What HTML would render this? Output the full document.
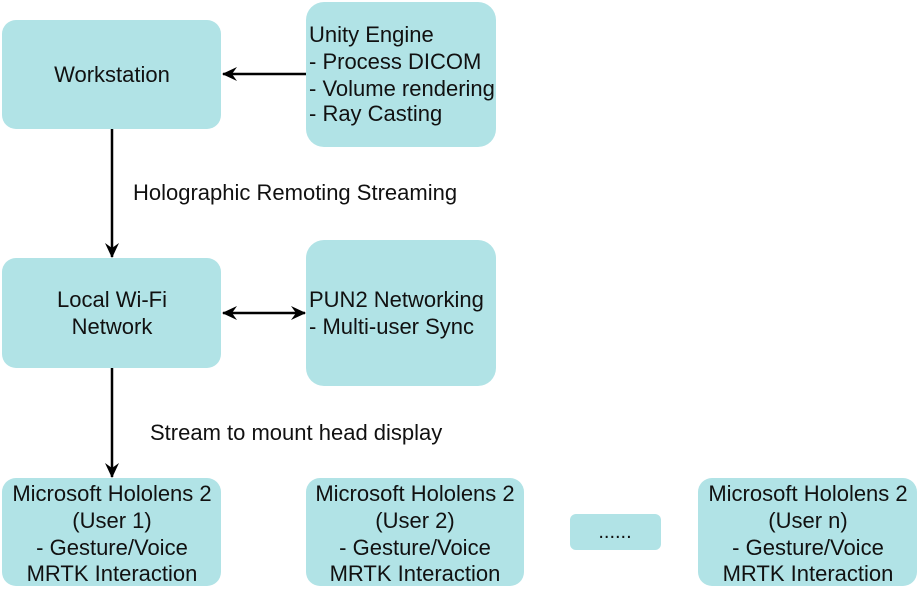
<!DOCTYPE html>
<html><head><style>html,body{margin:0;padding:0;background:#fff}svg{display:block}</style></head>
<body>
<svg width="920" height="590" viewBox="0 0 920 590" xmlns="http://www.w3.org/2000/svg" font-family="Liberation Sans, Arial, sans-serif" font-size="22" fill="#111">
<defs>
<marker id="a" markerWidth="16" markerHeight="16" refX="14" refY="8" orient="auto" markerUnits="userSpaceOnUse">
<path d="M0,1 L15,8 L0,15 L5,8 Z" fill="#000"/></marker>
<marker id="b" markerWidth="16" markerHeight="16" refX="1" refY="8" orient="auto" markerUnits="userSpaceOnUse">
<path d="M15,1 L0,8 L15,15 L10,8 Z" fill="#000"/></marker>
</defs>
<g fill="#b1e3e6">
<rect x="2" y="20" width="219" height="109" rx="14"/>
<rect x="306" y="2" width="190" height="145" rx="18"/>
<rect x="2" y="258" width="219" height="110" rx="14"/>
<rect x="306" y="240" width="190" height="146" rx="18"/>
<rect x="2" y="478" width="219" height="108" rx="14"/>
<rect x="306" y="478" width="218" height="108" rx="14"/>
<rect x="570" y="514" width="91" height="36" rx="6"/>
<rect x="698" y="478" width="219" height="108" rx="14"/>
</g>
<g stroke="#000" stroke-width="2.5" fill="none">
<line x1="306" y1="74" x2="223" y2="74" marker-end="url(#a)"/>
<line x1="112" y1="129" x2="112" y2="257" marker-end="url(#a)"/>
<line x1="223" y1="313" x2="305" y2="313" marker-start="url(#b)" marker-end="url(#a)"/>
<line x1="112" y1="368" x2="112" y2="477" marker-end="url(#a)"/>
</g>
<text x="112" y="82" text-anchor="middle">Workstation</text>
<text x="309" y="42">Unity Engine</text>
<text x="309" y="69">- Process DICOM</text>
<text x="309" y="96">- Volume rendering</text>
<text x="309" y="121">- Ray Casting</text>
<text x="133" y="200">Holographic Remoting Streaming</text>
<text x="112" y="307" text-anchor="middle">Local Wi-Fi</text>
<text x="112" y="334" text-anchor="middle">Network</text>
<text x="309" y="307">PUN2 Networking</text>
<text x="309" y="334">- Multi-user Sync</text>
<text x="150" y="440">Stream to mount head display</text>
<g text-anchor="middle">
<text x="112" y="501">Microsoft Hololens 2</text>
<text x="112" y="528">(User 1)</text>
<text x="112" y="555">- Gesture/Voice</text>
<text x="112" y="581">MRTK Interaction</text>
<text x="415" y="501">Microsoft Hololens 2</text>
<text x="415" y="528">(User 2)</text>
<text x="415" y="555">- Gesture/Voice</text>
<text x="415" y="581">MRTK Interaction</text>
<text x="615" y="538" font-size="20">......</text>
<text x="808" y="501">Microsoft Hololens 2</text>
<text x="808" y="528">(User n)</text>
<text x="808" y="555">- Gesture/Voice</text>
<text x="808" y="581">MRTK Interaction</text>
</g>
</svg>
</body></html>
